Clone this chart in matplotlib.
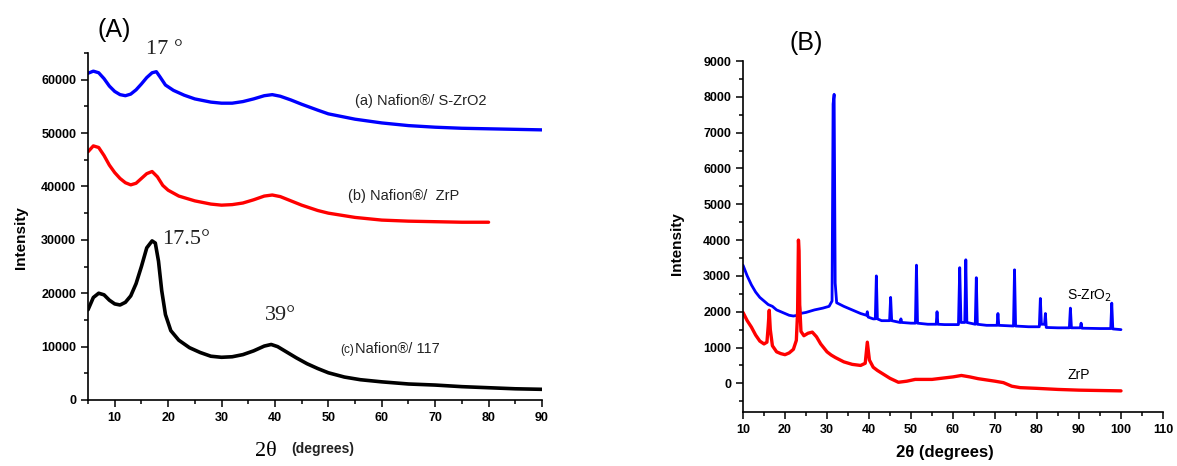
import matplotlib
matplotlib.use("Agg")
import matplotlib.pyplot as plt
from matplotlib.ticker import MultipleLocator

# ---------------- Panel A data ----------------
a_x = [5, 6, 7, 8, 9, 10, 11, 12, 13, 14, 15, 16, 17, 17.8, 18.5, 19.5, 21, 23, 25, 28, 30, 32, 34, 36, 38, 39.5,
       41, 43, 45, 48, 50, 55, 60, 65, 70, 75, 80, 85, 90]
a_y = [61200, 61600, 61300, 60200, 58800, 57800, 57200, 57000, 57300, 58100, 59200, 60400, 61300, 61500, 60500,
       59000, 58000, 57100, 56400, 55800, 55600, 55600, 55900, 56400, 57000, 57200, 56900, 56200, 55400, 54300,
       53600, 52600, 51900, 51400, 51100, 50900, 50800, 50700, 50600]

b_x = [5, 6, 7, 8, 9, 10, 11, 12, 13, 14, 15, 16, 17, 18, 19, 20, 22, 25, 28, 30, 32, 34, 36, 38, 39.5, 41, 43,
       45, 48, 50, 55, 60, 65, 70, 75, 80]
b_y = [46500, 47600, 47300, 45800, 44000, 42600, 41500, 40700, 40300, 40600, 41500, 42400, 42800, 41800, 40200,
       39300, 38200, 37300, 36700, 36500, 36600, 36900, 37500, 38200, 38400, 38100, 37300, 36500, 35500, 35000,
       34200, 33700, 33500, 33400, 33300, 33300]

c_x = [5, 6, 7, 8, 9, 10, 11, 12, 13, 14, 15, 16, 17, 17.6, 18.2, 18.8, 19.5, 20.5, 22, 24, 26, 28, 30, 32, 34,
       36, 38, 39.3, 40.5, 42, 44, 46, 48, 50, 53, 56, 60, 65, 70, 75, 80, 85, 90]
c_y = [16900, 19200, 20000, 19700, 18700, 18000, 17800, 18300, 19500, 21800, 25000, 28500, 29800, 29400, 26000,
       20500, 16000, 13000, 11200, 9800, 8900, 8200, 8000, 8100, 8500, 9200, 10100, 10400, 10000, 9100, 7900,
       6800, 5900, 5100, 4300, 3800, 3400, 3000, 2800, 2500, 2300, 2100, 2000]

# ---------------- Panel B data ----------------
szr_x = [10, 11, 12, 13, 14, 15, 16, 17, 18, 19, 20, 21, 22, 23.0, 23.3, 23.6, 25, 27, 29, 30.5, 31.2, 31.45,
         31.7, 31.95, 32.3, 34, 36, 38, 39.4, 39.6, 39.8, 41, 41.5, 41.75, 42.0, 43, 44.9, 45.15, 45.4, 47.4,
         47.6, 47.8, 50, 51.05, 51.3, 51.55, 54, 56.0, 56.2, 56.4, 58, 61.3, 61.6, 61.9, 62.8, 63.05, 63.3,
         65.3, 65.55, 65.8, 68, 70.5, 70.7, 70.9, 74.4, 74.65, 74.9, 78, 80.55, 80.8, 81.05, 81.8, 82.0, 82.2,
         85, 87.7, 87.95, 88.2, 90.3, 90.5, 90.7, 95, 97.55, 97.8, 98.05, 100]
szr_y = [3300, 3000, 2750, 2550, 2400, 2300, 2200, 2150, 2050, 2000, 1950, 1900, 1880, 1900, 2500, 1950, 1980,
         2050, 2100, 2150, 2300, 7800, 8070, 2800, 2250, 2150, 2050, 1950, 1900, 2000, 1850, 1800, 1800, 3000,
         1800, 1750, 1750, 2400, 1750, 1700, 1800, 1700, 1680, 1680, 3300, 1680, 1650, 1650, 2000, 1650, 1640,
         1640, 3230, 1700, 1700, 3450, 1700, 1650, 2950, 1650, 1620, 1620, 1950, 1620, 1600, 3170, 1600, 1580,
         1580, 2370, 1650, 1650, 1950, 1560, 1550, 1550, 2100, 1550, 1550, 1680, 1540, 1530, 1530, 2240, 1520,
         1500]

zrp_x = [10, 11, 12, 13, 14, 15, 15.7, 16.0, 16.25, 16.5, 17, 18, 19, 20, 21, 22, 22.7, 23.0, 23.2, 23.35, 23.5,
         23.8, 24.5, 25.5, 26.5, 27.5, 28.5, 30, 31, 32, 34, 36, 38, 39.1, 39.6, 40.1, 41, 42, 43.5, 45, 47, 49,
         51, 55, 60, 62, 64, 66, 70, 72, 74, 76, 80, 85, 90, 95, 100]
zrp_y = [1980, 1750, 1570, 1350, 1180, 1100, 1150, 1600, 2040, 1500, 1050, 880, 830, 800, 850, 950, 1200, 2000,
         4000, 3700, 2200, 1450, 1330, 1400, 1430, 1300, 1100, 880, 790, 720, 600, 530, 500, 560, 1150, 650, 450,
         360, 250, 140, 30, 60, 110, 110, 180, 220, 180, 130, 60, 20, -80, -120, -140, -170, -190, -200, -210]

W, H = 1177, 466
fig = plt.figure(figsize=(W / 100, H / 100), dpi=100)
plt.rcParams['font.family'] = ['Liberation Sans', 'DejaVu Sans']


def fx(px):
    return px / W


def fy(py):
    return 1 - py / H


def style(ax):
    for s in ('top', 'right'):
        ax.spines[s].set_visible(False)
    for s in ('left', 'bottom'):
        ax.spines[s].set_linewidth(1.2)
    ax.tick_params(which='both', direction='out', width=1.1)
    ax.tick_params(which='major', length=5, labelsize=9)
    ax.tick_params(which='minor', length=3)
    for lab in ax.get_xticklabels() + ax.get_yticklabels():
        lab.set_fontweight('bold')


# ---------- Panel A ----------
axA = fig.add_axes([fx(88), fy(400), fx(542) - fx(88), fy(53) - fy(400)])
kw = dict(solid_joinstyle='round', solid_capstyle='round')
axA.plot(a_x, a_y, color='#0000ff', lw=2.4, **kw)
axA.plot(b_x, b_y, color='#ff0000', lw=2.4, **kw)
axA.plot(c_x, c_y, color='black', lw=2.6, **kw)
axA.set_xlim(5, 90)
axA.set_ylim(0, 65000)
axA.xaxis.set_major_locator(MultipleLocator(10))
axA.xaxis.set_minor_locator(MultipleLocator(5))
axA.yaxis.set_major_locator(MultipleLocator(10000))
axA.yaxis.set_minor_locator(MultipleLocator(5000))
style(axA)
fig.text(fx(21), fy(238), 'Intensity', fontsize=11, fontweight='bold', rotation=90, ha='center', va='center')

fig.text(fx(114), fy(30), '(A)', fontsize=18, ha='center', va='center')
fig.text(fx(164), fy(50), '17 °', fontsize=16, family='Liberation Serif', ha='center', va='center',
         color='#222222')
fig.text(fx(186), fy(240), '17.5°', fontsize=16, family='Liberation Serif', ha='center', va='center',
         color='#222222')
fig.text(fx(281), fy(316), '39°', fontsize=16, family='Liberation Serif', ha='center', va='center',
         color='#222222')
fig.text(fx(355), fy(101), '(a) Nafion®/ S-ZrO2', fontsize=10.5, ha='left', va='center', color='#222222')
fig.text(fx(348), fy(196), '(b) Nafion®/  ZrP', fontsize=10.5, ha='left', va='center', color='#222222')
fig.text(fx(340), fy(350), '(c)', fontsize=8.5, ha='left', va='center', color='#222222')
fig.text(fx(355), fy(349), 'Nafion®/ 117', fontsize=10.5, ha='left', va='center', color='#222222')
fig.text(fx(266), fy(451), '2θ', fontsize=16, family='Liberation Serif', ha='center', va='center')
fig.text(fx(323), fy(449), '(degrees)', fontsize=10, fontweight='bold', ha='center', va='center',
         color='#222222')

# ---------- Panel B ----------
axB = fig.add_axes([fx(743), fy(412), fx(1163) - fx(743), fy(61) - fy(412)])
axB.plot(szr_x, szr_y, color='#0000ff', lw=2.0, **kw)
axB.plot(zrp_x, zrp_y, color='#ff0000', lw=2.4, **kw)
axB.set_xlim(10, 110)
axB.set_ylim(-800, 9000)
axB.xaxis.set_major_locator(MultipleLocator(10))
axB.xaxis.set_minor_locator(MultipleLocator(5))
axB.yaxis.set_major_locator(MultipleLocator(1000))
axB.yaxis.set_minor_locator(MultipleLocator(500))
style(axB)
fig.text(fx(677), fy(244), 'Intensity', fontsize=11, fontweight='bold', rotation=90, ha='center', va='center')
fig.text(fx(945), fy(452), '2θ (degrees)', fontsize=12, fontweight='bold', ha='center', va='center')

fig.text(fx(806), fy(43), '(B)', fontsize=18, ha='center', va='center')
fig.text(fx(1067), fy(296), 'S-ZrO$_2$', fontsize=10, ha='left', va='center')
fig.text(fx(1067), fy(375), 'ZrP', fontsize=10, ha='left', va='center')

fig.savefig('out.png', dpi=100)
